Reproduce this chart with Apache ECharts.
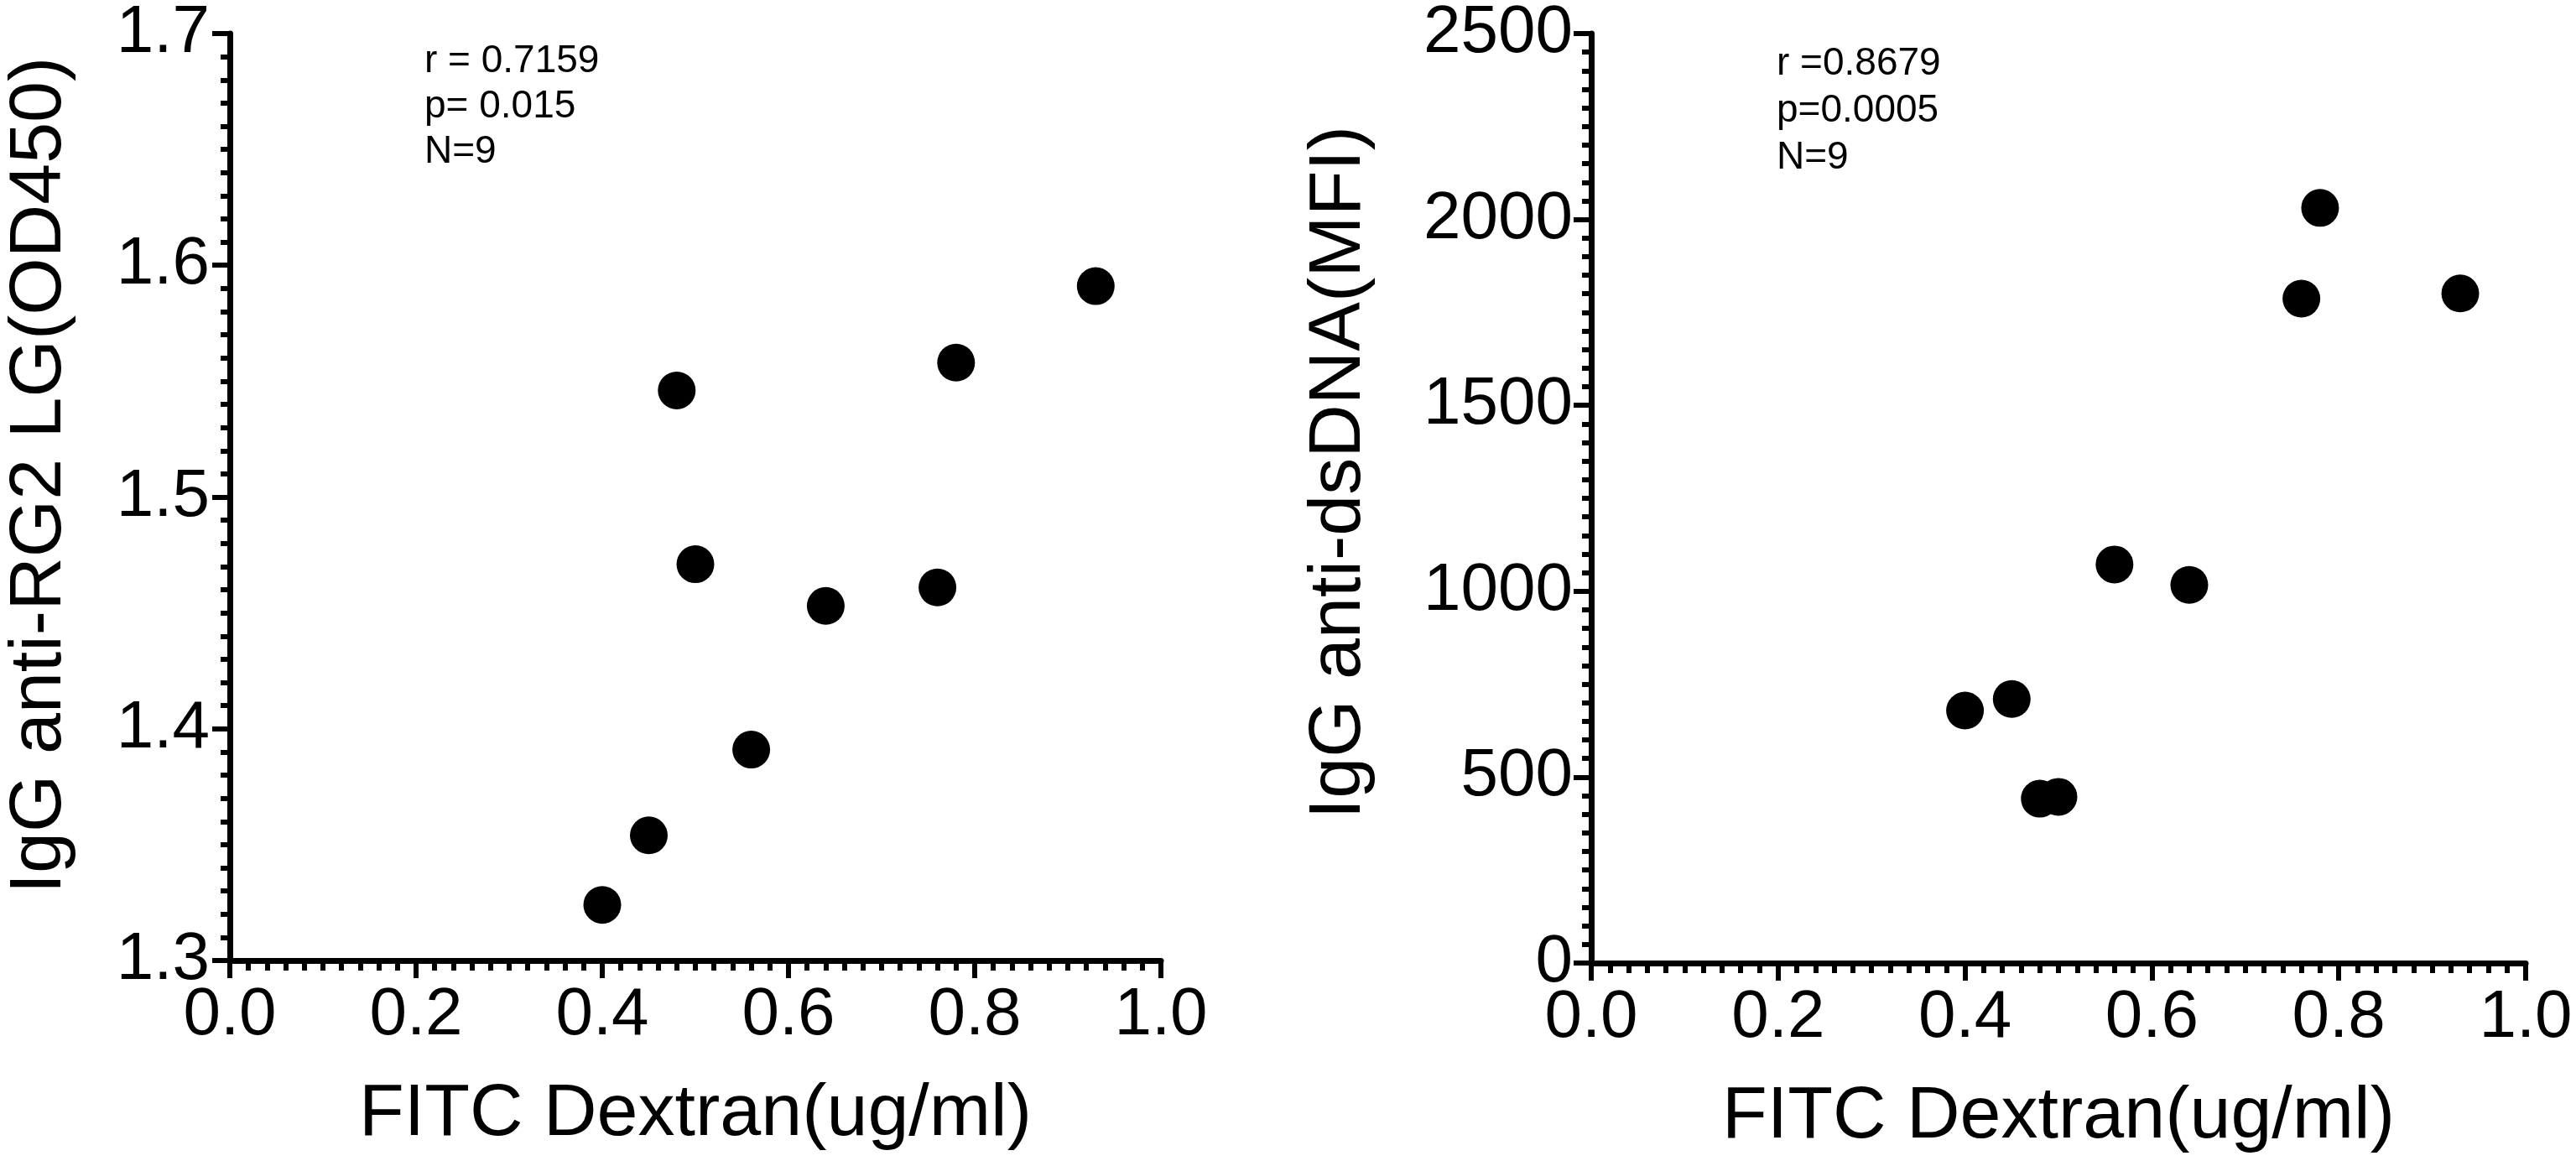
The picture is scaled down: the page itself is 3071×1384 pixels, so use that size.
<!DOCTYPE html>
<html>
<head>
<meta charset="utf-8">
<script src="https://cdn.jsdelivr.net/npm/echarts@6/dist/echarts.min.js"></script>
<style>
  html, body { margin: 0; padding: 0; background: #fff; }
  #main { width: 3071px; height: 1384px; }
</style>
</head>
<body>
<div id="main"></div>
<script>
// FITC Dextran values, shared by both panels
var fitc = [0.40, 0.45, 0.48, 0.50, 0.56, 0.64, 0.76, 0.78, 0.93];
// left panel: IgG anti-RG2 LG (OD450)
var rg2 = [1.324, 1.354, 1.546, 1.471, 1.391, 1.453, 1.461, 1.558, 1.591];
// right panel: IgG anti-dsDNA (MFI)
var dsdna = [679, 710, 442, 447, 1072, 1017, 1787, 2031, 1801];

var statsLeft = ["r = 0.7159", "p= 0.015", "N=9"];
var statsRight = ["r =0.8679", "p=0.0005", "N=9"];

var xTitle = "FITC Dextran(ug/ml)";
var yTitleLeft = "IgG anti-RG2 LG(OD450)";
var yTitleRight = "IgG anti-dsDNA(MFI)";

(function () {
  var myChart = echarts.init(document.getElementById("main"));
  var font = '"Liberation Sans", Arial, sans-serif';
  var lineW = 7;
  var tickW = 6;

  function pairs(xs, ys) {
    var list = [];
    for (var i = 0; i < xs.length; i++) {
      list.push([xs[i], ys[i]]);
    }
    return list;
  }

  function xAxisOf(idx) {
    return {
      type: "value",
      gridIndex: idx,
      min: 0,
      max: 1,
      interval: 0.2,
      name: xTitle,
      nameLocation: "middle",
      nameGap: 140,
      nameTextStyle: { color: "#000", fontSize: 88, fontFamily: font },
      axisLine: { show: true, onZero: false, lineStyle: { color: "#000", width: lineW } },
      axisTick: { show: true, length: 21, lineStyle: { color: "#000", width: tickW } },
      minorTick: { show: true, splitNumber: 10, length: 12, lineStyle: { color: "#000", width: tickW } },
      splitLine: { show: false },
      axisLabel: {
        color: "#000",
        fontSize: 80,
        fontFamily: font,
        margin: 26,
        formatter: function (v) { return v.toFixed(1); }
      }
    };
  }

  var option = {
    backgroundColor: "#fff",
    animation: false,
    grid: [
      { left: 274, right: 1687, top: 34, bottom: 239 },
      { left: 1897, right: 60, top: 34, bottom: 236 }
    ],
    xAxis: [xAxisOf(0), xAxisOf(1)],
    yAxis: [
      {
        type: "value",
        gridIndex: 0,
        min: 1.3,
        max: 1.7,
        interval: 0.1,
        name: yTitleLeft,
        nameLocation: "middle",
        nameGap: 182,
        nameTextStyle: { color: "#000", fontSize: 88, fontFamily: font, padding: [0, 0, 0, 52] },
        axisLine: { show: true, onZero: false, lineStyle: { color: "#000", width: lineW } },
        axisTick: { show: true, length: 21, lineStyle: { color: "#000", width: tickW } },
        minorTick: { show: true, splitNumber: 10, length: 11, lineStyle: { color: "#000", width: tickW } },
        splitLine: { show: false },
        axisLabel: {
          color: "#000",
          fontSize: 80,
          fontFamily: font,
          margin: 24,
          formatter: function (v) { return v.toFixed(1); }
        }
      },
      {
        type: "value",
        gridIndex: 1,
        min: 0,
        max: 2500,
        interval: 500,
        name: yTitleRight,
        nameLocation: "middle",
        nameGap: 256,
        nameTextStyle: { color: "#000", fontSize: 88, fontFamily: font, padding: [0, 0, 0, 62] },
        axisLine: { show: true, onZero: false, lineStyle: { color: "#000", width: lineW } },
        axisTick: { show: true, length: 21, lineStyle: { color: "#000", width: tickW } },
        minorTick: { show: true, splitNumber: 10, length: 11, lineStyle: { color: "#000", width: tickW } },
        splitLine: { show: false },
        axisLabel: {
          color: "#000",
          fontSize: 80,
          fontFamily: font,
          margin: 22,
          formatter: function (v) { return String(v); }
        }
      }
    ],
    graphic: [
      {
        type: "text",
        left: 506,
        top: 46,
        style: { text: statsLeft.join("\n"), fill: "#000", font: "46px " + font, lineHeight: 54 }
      },
      {
        type: "text",
        left: 2118,
        top: 48,
        style: { text: statsRight.join("\n"), fill: "#000", font: "46px " + font, lineHeight: 56 }
      }
    ],
    series: [
      {
        type: "scatter",
        xAxisIndex: 0,
        yAxisIndex: 0,
        symbol: "circle",
        symbolSize: 45,
        itemStyle: { color: "#000", opacity: 1 },
        data: pairs(fitc, rg2)
      },
      {
        type: "scatter",
        xAxisIndex: 1,
        yAxisIndex: 1,
        symbol: "circle",
        symbolSize: 45,
        itemStyle: { color: "#000", opacity: 1 },
        data: pairs(fitc, dsdna)
      }
    ]
  };

  myChart.setOption(option);
  window.addEventListener("resize", function () {
    myChart.resize();
  });
})();
</script>
</body>
</html>
